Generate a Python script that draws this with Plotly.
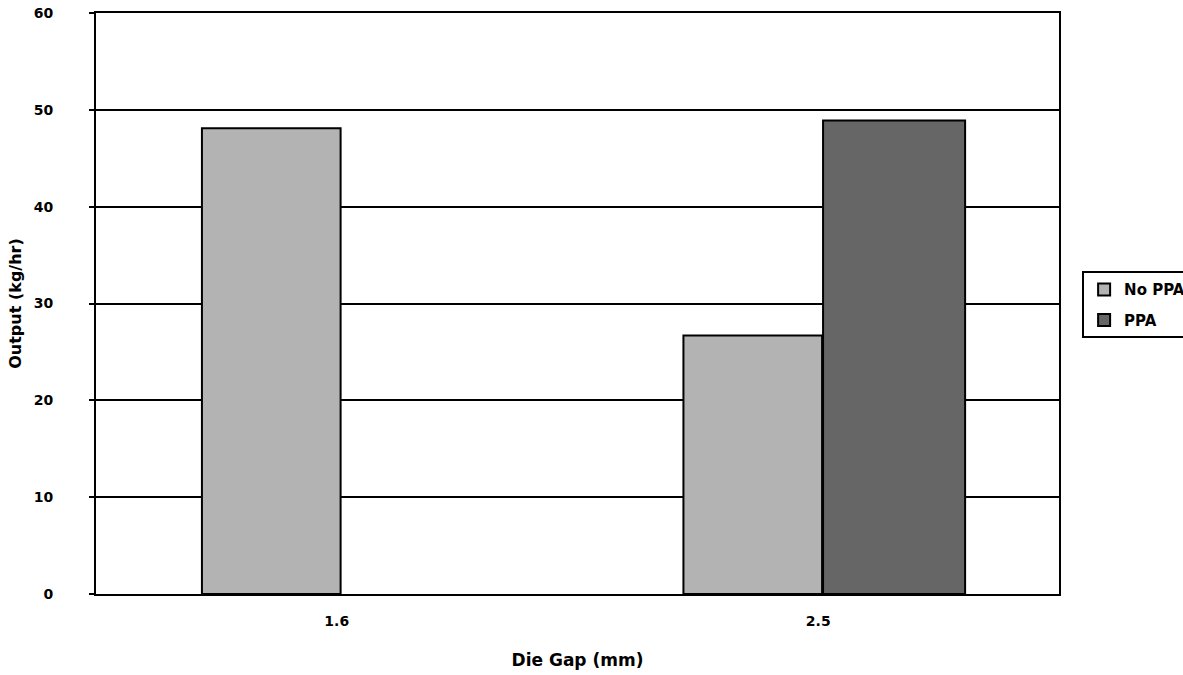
import plotly.graph_objects as go

# Output rate by die gap, with and without processing aid
categories = ["1.6", "2.5"]
no_ppa = [48.1, 26.7]
ppa = [None, 48.9]
y_ticks = [0, 10, 20, 30, 40, 50, 60]

BOLD = "DejaVu Sans, Arial, sans-serif"

fig = go.Figure()
fig.add_trace(go.Bar(
    x=categories, y=no_ppa, name="No PPA",
    marker=dict(color="#b3b3b3", line=dict(color="black", width=2)),
    width=0.288, offset=-0.28, legendgroup="a",
))
fig.add_trace(go.Bar(
    x=categories, y=ppa, name="PPA",
    marker=dict(color="#666666", line=dict(color="black", width=2)),
    width=0.295, offset=0.01, legendgroup="b",
))

fig.update_layout(
    width=1183, height=675,
    barmode="overlay",
    plot_bgcolor="white", paper_bgcolor="white",
    margin=dict(l=96, r=124, t=13, b=81, autoexpand=False),
    font=dict(family=BOLD, size=14, color="black", weight="bold"),
    showlegend=True,
    legend=dict(
        x=1.024, y=0.498, xanchor="left", yanchor="middle",
        bordercolor="black", borderwidth=2, bgcolor="white",
        font=dict(family=BOLD, size=15, weight="bold"),
        traceorder="grouped", tracegroupgap=8,
    ),
    xaxis=dict(
        title=dict(text="Die Gap (mm)", font=dict(family=BOLD, size=17, weight="bold"), standoff=26),
        showline=True, linecolor="black", linewidth=2, mirror=True,
        ticks="", ticklabelstandoff=13, showgrid=False,
        tickfont=dict(family=BOLD, size=14, weight="bold"),
        range=[-0.5, 1.5],
    ),
    yaxis=dict(
        title=dict(text="Output (kg/hr)", font=dict(family=BOLD, size=16, weight="bold"), standoff=8),
        range=[0, 60], tickvals=y_ticks,
        showline=True, linecolor="black", linewidth=2, mirror=True,
        ticks="outside", ticklen=5, tickwidth=2, tickcolor="black",
        ticklabelstandoff=33,
        tickfont=dict(family=BOLD, size=14, weight="bold"),
        showgrid=True, gridcolor="black", gridwidth=2,
        zeroline=False,
    ),
)

fig.write_html("out.html")
